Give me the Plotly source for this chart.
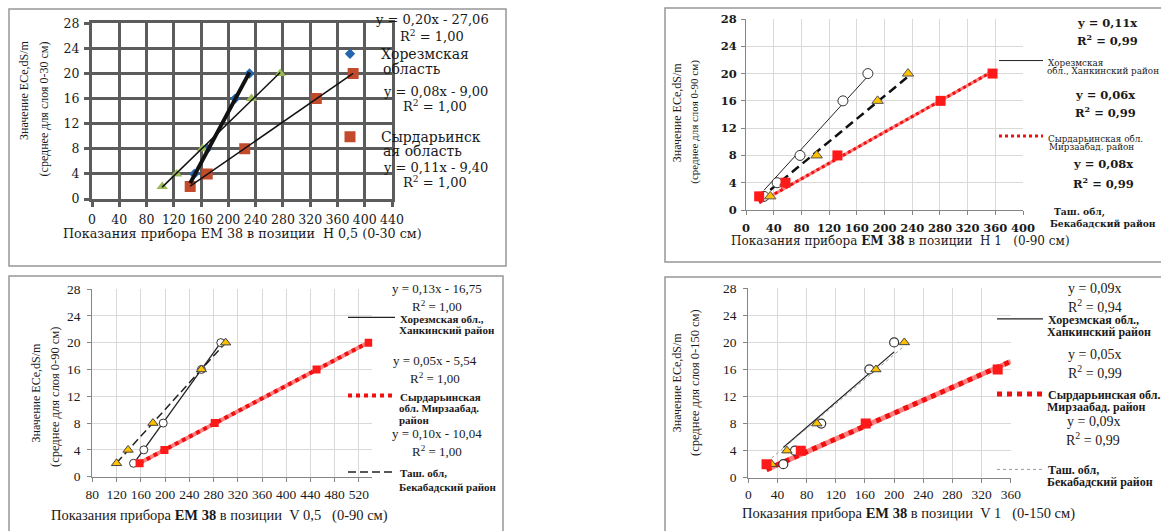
import numpy as np
import plotly.graph_objects as go

W, H = 1161, 531
LS = "Liberation Serif, Times New Roman, serif"
DV = "DejaVu Serif, serif"
TXT = "#1a1a1a"

# ---------------- data ----------------
ece_levels = [2, 4, 8, 16, 20]

# Panel 1: H 0,5 (0-30 см)
p1_khorezm_x = [144, 150, 169, 210, 231]
p1_tash_x = [103, 124, 162, 234, 276]
p1_syr_x = [144, 169, 224, 329, 383]
p1_eq = ["y = 0,20x - 27,06", "y = 0,08x - 9,00", "y = 0,11x - 9,40"]
p1_r2 = ["1,00", "1,00", "1,00"]

# Panel 2: H 1 (0-90 см)
p2_khorezm_x = [26, 45, 78, 140, 176]
p2_tash_x = [35, 57, 102, 190, 234]
p2_syr_x = [19, 57, 132, 281, 356]
p2_eq = ["y = 0,11x", "y = 0,06x", "y = 0,08x"]
p2_r2 = ["0,99", "0,99", "0,99"]

# Panel 3: V 0,5 (0-90 см)
p3_khorezm_x = [148, 165, 197, 260, 292]
p3_tash_x = [120, 139, 180, 260, 300]
p3_syr_x = [158, 199, 282, 450, 536]
p3_eq = ["y = 0,13x - 16,75", "y = 0,05x - 5,54", "y = 0,10x - 10,04"]
p3_r2 = ["1,00", "1,00", "1,00"]

# Panel 4: V 1 (0-150 см)
p4_khorezm_x = [48, 64, 100, 166, 200]
p4_tash_x = [32, 53, 94, 175, 214]
p4_syr_x = [25, 72, 161, 342]
p4_syr_y = [2, 4, 8, 16]
p4_eq = ["y = 0,09x", "y = 0,05x", "y = 0,09x"]
p4_r2 = ["0,94", "0,99", "0,99"]

x_ranges = {1: [0, 440], 2: [0, 400], 3: [80, 542], 4: [0, 360]}
y_range = [0, 28]


def fx(p):
    return p / W


def fy(p):
    return 1 - p / H


def fit(x, y, origin, x_end=None):
    x = np.asarray(x, float)
    y = np.asarray(y, float)
    if origin:
        k = float((x * y).sum() / (x * x).sum())
        b = 0.0
    else:
        k, b = np.polyfit(x, y, 1)
    xs = np.array([x.min(), x.max() if x_end is None else x_end])
    return xs, k * xs + b


fig = go.Figure()


def ax(n):
    return ("x" if n == 1 else f"x{n}"), ("y" if n == 1 else f"y{n}")


def markers(n, x, y, symbol, color, size, line_color=None, lw=0, legend=None, name=None):
    xa, ya = ax(n)
    fig.add_trace(go.Scatter(
        x=x, y=y, xaxis=xa, yaxis=ya, mode="markers",
        marker=dict(symbol=symbol, color=color, size=size,
                    line=dict(color=line_color or color, width=lw)),
        showlegend=legend is not None, legend=legend, name=name or "",
        hoverinfo="skip"))


def trend(n, x, y, origin, color, width, dash="solid", legend=None, name=None, x_end=None):
    xa, ya = ax(n)
    xs, ys = fit(x, y, origin, x_end)
    fig.add_trace(go.Scatter(
        x=xs, y=ys, xaxis=xa, yaxis=ya, mode="lines",
        line=dict(color=color, width=width, dash=dash),
        showlegend=legend is not None, legend=legend, name=name or "",
        hoverinfo="skip"))


def red_trend(n, x, y, origin, width, legend, name, x_end=None):
    trend(n, x, y, origin, "#ff8080", width, x_end=x_end)
    trend(n, x, y, origin, "#f01010", width, dash="dot", legend=legend, name=name, x_end=x_end)


# ---------- Panel 1 ----------
markers(1, p1_khorezm_x, ece_levels, "diamond", "#2565ad", 8,
        legend="legend", name="Хорезмская")
markers(1, p1_tash_x, ece_levels, "triangle-up", "#9bbb59", 10)
markers(1, p1_syr_x, ece_levels, "square", "#c24b2c", 11,
        legend="legend2", name="Сырдарьинск")
trend(1, p1_khorezm_x, ece_levels, False, "#111111", 4)
trend(1, p1_tash_x, ece_levels, False, "#111111", 1.5)
trend(1, p1_syr_x, ece_levels, False, "#111111", 1.5)

# ---------- Panel 2 ----------
trend(2, p2_khorezm_x, ece_levels, True, "#222222", 1, legend="legend3", name="Хорезмская")
trend(2, p2_tash_x, ece_levels, True, "#111111", 2.5, dash="9px,5px")
red_trend(2, p2_syr_x, ece_levels, True, 3, "legend4", "Сырдарьинская обл.")
markers(2, p2_khorezm_x, ece_levels, "circle", "white", 10, "#333333", 1)
markers(2, p2_tash_x, ece_levels, "triangle-up", "#ffc000", 10, "#555555", 1)
markers(2, p2_syr_x, ece_levels, "square", "#ff1a1a", 10)

# ---------- Panel 3 ----------
trend(3, p3_khorezm_x, ece_levels, False, "#222222", 1.3, legend="legend5", name="Хорезмская обл.,")
red_trend(3, p3_syr_x, ece_levels, False, 4, "legend6", "Сырдарьинская")
trend(3, p3_tash_x, ece_levels, False, "#222222", 1.5, dash="8px,4px", legend="legend7",
      name="Таш. обл,")
markers(3, p3_khorezm_x, ece_levels, "circle", "white", 8, "#333333", 1)
markers(3, p3_tash_x, ece_levels, "triangle-up", "#ffc000", 9, "#444444", 1)
markers(3, p3_syr_x, ece_levels, "square", "#ff1a1a", 8)

# ---------- Panel 4 ----------
trend(4, p4_khorezm_x, ece_levels, True, "#222222", 1.3, legend="legend8", name="Хорезмская обл.,")
red_trend(4, p4_syr_x, p4_syr_y, True, 5, "legend9", "Сырдарьинская обл.",
          x_end=x_ranges[4][1])
trend(4, p4_tash_x, ece_levels, True, "#9a9a9a", 1, dash="dot", legend="legend10",
      name="Таш. обл,")
markers(4, p4_khorezm_x, ece_levels, "circle", "white", 9, "#333333", 1.2)
markers(4, p4_tash_x, ece_levels, "triangle-up", "#ffc000", 9, "#444444", 1)
markers(4, p4_syr_x, p4_syr_y, "square", "#ff1a1a", 10)

# ---------------- axes ----------------
# plot-area pixel boxes (left, right, top, bottom)
boxes = {1: (92, 392, 23.3, 199), 2: (746, 1023, 19, 210),
         3: (92.3, 372.3, 289, 476.7), 4: (748.3, 1010.8, 288.3, 477.7)}
tick_fonts = {1: (DV, 12.5, "normal"), 2: (DV, 11.5, "bold"),
              3: (LS, 13.5, "normal"), 4: (LS, 13.5, "normal")}
x_standoff = {1: 2, 2: 3, 3: 1, 4: 0}
y_standoff = {1: 2, 2: 2, 3: 4, 4: 4}

layout_axes = {}
for n, (l, r, t, b) in boxes.items():
    xa = "xaxis" if n == 1 else f"xaxis{n}"
    ya = "yaxis" if n == 1 else f"yaxis{n}"
    xr, yr = ax(n)
    fam, size, weight = tick_fonts[n]
    tf = dict(family=fam, size=size, color=TXT, weight=weight)
    if n == 1:
        common = dict(showgrid=True, gridcolor="#5c5c5c", gridwidth=3, showline=True,
                      linecolor="#5c5c5c", linewidth=3, mirror=True, ticks="outside",
                      ticklen=5, tickwidth=3, tickcolor="#5c5c5c", zeroline=False)
    else:
        common = dict(showgrid=True, gridcolor="#d9d9d9", gridwidth=1, showline=True,
                      linecolor="#868686", linewidth=1, ticks="outside", ticklen=4,
                      tickwidth=1, tickcolor="#868686", zeroline=False)
    layout_axes[xa] = dict(domain=[fx(l), fx(r)], range=x_ranges[n], anchor=yr,
                           tick0=x_ranges[n][0], dtick=40, fixedrange=True, tickfont=tf,
                           ticklabelstandoff=x_standoff[n], **common)
    layout_axes[ya] = dict(domain=[fy(b), fy(t)], range=y_range, anchor=xr, dtick=4,
                           fixedrange=True, tickfont=tf,
                           ticklabelstandoff=y_standoff[n], **common)

# ---------------- annotations ----------------
annotations = []


def ann(text, x, y, size, fam=LS, bold=False, xanchor="center", angle=0):
    annotations.append(dict(
        text=text, x=fx(x), y=fy(y), xref="paper", yref="paper", xanchor=xanchor,
        yanchor="middle", showarrow=False, textangle=angle,
        font=dict(family=fam, size=size, color=TXT, weight="bold" if bold else "normal")))


NB = "\u00a0"
# regression equations
for eq, r2, (xe, ye, yr2) in zip(p1_eq, p1_r2, [(432, 20, 35.5), (435, 91, 106), (435, 167.5, 182.5)]):
    ann(eq, xe, ye, 13, DV)
    ann(f"R<sup>2</sup> = {r2}", xe, yr2, 13, DV)
for eq, r2, (xe, ye, yr2) in zip(p2_eq, p2_r2, [(1107, 22.7, 39.5), (1105, 95, 111.7), (1103, 164.3, 183)]):
    ann(eq, xe, ye, 11.5, DV, bold=True)
    ann(f"R<sup>2</sup> = {r2}", xe, yr2, 11.5, DV, bold=True)
for eq, r2, (xe, ye, yr2) in zip(p3_eq, p3_r2, [(436.7, 288.5, 305.5), (435, 360, 378), (436.7, 433.5, 450.5)]):
    ann(eq, xe, ye, 13)
    ann(f"R<sup>2</sup> = {r2}", xe, yr2, 13)
for eq, r2, (xe, ye, yr2) in zip(p4_eq, p4_r2, [(1094.8, 288.3, 305.7), (1094.8, 354.3, 372.3), (1093, 421.5, 439)]):
    ann(eq, xe, ye, 14)
    ann(f"R<sup>2</sup> = {r2}", xe, yr2, 14)

# continuation lines of legend labels
ann("область", 381, 68.5, 14, DV, xanchor="left")
ann("ая область", 381, 151, 14, DV, xanchor="left")
ann("обл., Ханкинский район", 1045, 71, 8.8, DV, xanchor="left")
ann("Мирзаабад. район", 1047, 146.5, 8.8, DV, xanchor="left")
ann("Таш. обл,", 1051.7, 211.7, 9.2, DV, bold=True, xanchor="left")
ann("Бекабадский район", 1048, 224, 9.2, DV, bold=True, xanchor="left")
ann("Ханкинский район", 397, 330.5, 11, bold=True, xanchor="left")
ann("обл. Мирзаабад.", 396.7, 407.7, 11, bold=True, xanchor="left")
ann("район", 396.7, 420, 11, bold=True, xanchor="left")
ann("Бекабадский район", 397, 486.7, 11, bold=True, xanchor="left")
ann("Ханкинский район", 1044.8, 331.7, 12, bold=True, xanchor="left")
ann("Мирзаабад. район", 1044.8, 407, 12, bold=True, xanchor="left")
ann("Бекабадский район", 1044.8, 482.3, 12, bold=True, xanchor="left")

# axis titles
ann(f"Показания прибора EM 38 в позиции {NB}H 0,5 (0-30 см)", 242, 234, 12.7, DV)
ann(f"Показания прибора <b>EM 38</b> в позиции {NB}H 1 {NB}{NB}(0-90 см)", 900, 241, 12, DV)
ann(f"Показания прибора <b>EM 38</b> в позиции {NB}V 0,5 {NB}{NB}(0-90 см)", 219.5, 515.7, 14.5)
ann(f"Показания прибора <b>EM 38</b> в позиции {NB}V 1 {NB}{NB}(0-150 см)", 908.5, 513.3, 14.5)

ann("Значение ECe,dS/m", 24, 91, 12, angle=-90)
ann("(среднее для слоя 0-30 см)", 44.4, 109, 12, angle=-90)
ann("Значение ECe,dS/m", 676.7, 112.5, 12, angle=-90)
ann("(среднее для слоя 0-90 см)", 695, 121.7, 11, angle=-90)
ann("Значение ECe,dS/m", 35, 393.5, 12, angle=-90)
ann("(среднее для слоя 0-90 см)", 55, 397, 12.5, angle=-90)
ann("Значение ECe,dS/m", 676.7, 382.5, 12, angle=-90)
ann("(среднее для слоя 0-150 см)", 695, 383, 12.5, angle=-90)

# ---------------- legends ----------------
legends = {}


def leg(key, left, first_center, size, itemwidth, fam=LS, bold=False):
    top = first_center - 0.7 * size - 6.5
    legends[key] = dict(x=fx(left), y=fy(top), xanchor="left", yanchor="top",
                        bgcolor="rgba(0,0,0,0)", borderwidth=0, itemwidth=itemwidth,
                        valign="top", tracegroupgap=0,
                        font=dict(family=fam, size=size, color=TXT,
                                  weight="bold" if bold else "normal"))


leg("legend", 319, 54.5, 14, 52, DV)
leg("legend2", 319, 137.5, 14, 52, DV)
leg("legend3", 994, 61, 8.8, 44, DV)
leg("legend4", 994, 136.5, 8.8, 44, DV)
leg("legend5", 343, 318, 11, 47, bold=True)
leg("legend6", 343, 396, 11, 47, bold=True)
leg("legend7", 343, 472.5, 11, 47, bold=True)
leg("legend8", 992, 319.5, 12, 46, bold=True)
leg("legend9", 992, 394.5, 12, 46, bold=True)
leg("legend10", 992, 470, 12, 46, bold=True)

# ---------------- panel frames ----------------
frames = [(9, 9, 506, 266), (665, 8, 1175, 262), (9, 276, 503, 545), (665, 277, 1175, 545)]
shapes = [dict(type="rect", xref="paper", yref="paper", x0=fx(a), x1=fx(c), y0=fy(b), y1=fy(d),
               line=dict(color="#979797", width=1.5), fillcolor="rgba(0,0,0,0)")
          for a, b, c, d in frames]

fig.update_layout(
    width=W, height=H, margin=dict(l=0, r=0, t=0, b=0, autoexpand=False),
    paper_bgcolor="white", plot_bgcolor="white",
    annotations=annotations, shapes=shapes, showlegend=True,
    **layout_axes, **legends)

fig.write_html("out.html")
